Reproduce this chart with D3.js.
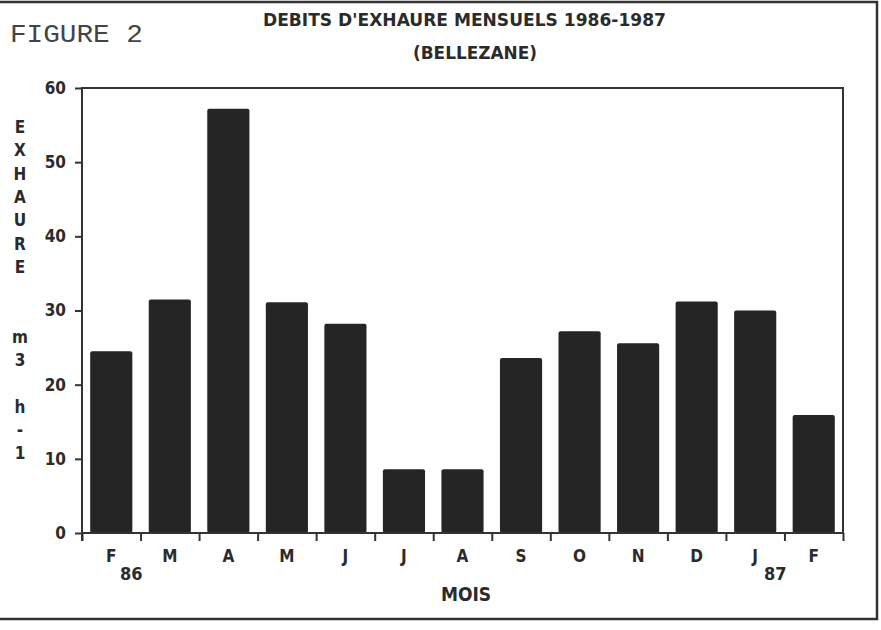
<!DOCTYPE html>
<html>
<head>
<meta charset="utf-8">
<script src="https://cdn.jsdelivr.net/npm/d3@7"></script>
<style>
  body { margin: 0; background: #fff; }
  .blk { font-family: "DejaVu Sans Condensed", "Liberation Sans Narrow", sans-serif; font-weight: bold; fill: #2b2b2b; }
  .axis text { font-family: "DejaVu Sans Condensed", "Liberation Sans Narrow", sans-serif; font-weight: bold; fill: #2b2b2b; font-size: 17px; }
  .axis path, .axis line { stroke: #333; stroke-width: 2; }
</style>
</head>
<body>
<svg class="chart"></svg>
<script>
// monthly values (m3/h)
var months = ["F", "M", "A", "M", "J", "J", "A", "S", "O", "N", "D", "J", "F"];
var values = [24.5, 31.5, 57.2, 31.1, 28.2, 8.6, 8.6, 23.6, 27.2, 25.6, 31.2, 30.0, 15.9];
var yearIdx = [0, 11];
var yearText = ["86", "87"];
var yTicks = [0, 10, 20, 30, 40, 50, 60];
var yLetters = ["E", "X", "H", "A", "U", "R", "E", "", "", "m", "3", "", "h", "-", "1"];

var W = 881, H = 630;
// plot box (note: "top" is taken by window.top)
var pL = 82, pR = 843, pT = 88, pB = 533;

var svg = d3.select(".chart")
	.attr("width", W)
	.attr("height", H);

var idx = months.map(function(d, i) { return i; });

var x = d3.scaleBand()
	.domain(idx)
	.range([pL, pR])
	.paddingInner(0.28)
	.paddingOuter(0.14);
var xb = d3.scaleBand()
	.domain(idx)
	.range([pL, pR]);
var xl = d3.scaleLinear()
	.domain([0, months.length])
	.range([pL, pR]);
var y = d3.scaleLinear()
	.domain([0, 60])
	.range([pB, pT]);

// outer page frame
svg.append("path")
	.attr("d", "M-5,2 H877 V619 H-5")
	.attr("fill", "none")
	.attr("stroke", "#333")
	.attr("stroke-width", 2.5);

// bars
svg.selectAll(".bar")
	.data(values)
.enter().append("rect")
	.attr("class", "bar")
	.attr("x", function(d, i) { return x(i); })
	.attr("y", function(d) { return y(d); })
	.attr("width", x.bandwidth())
	.attr("height", function(d) { return y(0) - y(d); })
	.attr("rx", 2)
	.attr("fill", "#252525");

// plot frame
svg.append("rect")
	.attr("x", pL)
	.attr("y", pT)
	.attr("width", pR - pL)
	.attr("height", pB - pT)
	.attr("fill", "none")
	.attr("stroke", "#333")
	.attr("stroke-width", 2);

// y axis
svg.append("g")
	.attr("class", "axis")
	.attr("transform", "translate(" + pL + ",0)")
	.call(d3.axisLeft(y).tickValues(yTicks).tickSize(7).tickPadding(9).tickSizeOuter(0))
	.call(function(g) { g.select(".domain").remove(); });

svg.append("line")
	.attr("x1", pL).attr("x2", pL)
	.attr("y1", pT).attr("y2", pB + 8)
	.attr("stroke", "#333")
	.attr("stroke-width", 2);

// boundary ticks on x
svg.append("g")
	.attr("class", "axis")
	.attr("transform", "translate(0," + pB + ")")
	.call(d3.axisBottom(xl).tickValues(d3.range(months.length + 1)).tickSize(8).tickFormat(""))
	.call(function(g) { g.select(".domain").remove(); });

// month labels
svg.append("g")
	.attr("class", "axis")
	.attr("transform", "translate(0," + pB + ")")
	.call(d3.axisBottom(xb).tickSize(0).tickPadding(17).tickFormat(function(i) { return months[i]; }))
	.call(function(g) { g.select(".domain").remove(); });

svg.selectAll(".year")
	.data(yearIdx)
.enter().append("text")
	.attr("class", "blk")
	.attr("x", function(d) { return xb(d) + xb.bandwidth() / 2 + 20; })
	.attr("y", 580)
	.attr("text-anchor", "middle")
	.style("font-size", "18px")
	.text(function(d, i) { return yearText[i]; });

// axis titles
svg.append("text")
	.attr("class", "blk")
	.attr("x", 466)
	.attr("y", 601)
	.attr("text-anchor", "middle")
	.style("font-size", "19px")
	.text("MOIS");

svg.selectAll(".ylab")
	.data(yLetters)
.enter().append("text")
	.attr("class", "blk")
	.attr("x", 20)
	.attr("y", function(d, i) { return 133 + i * 23.3; })
	.attr("text-anchor", "middle")
	.style("font-size", "17px")
	.text(function(d) { return d; });

// titles
svg.append("text")
	.attr("x", 10)
	.attr("y", 42)
	.attr("textLength", 133)
	.attr("lengthAdjust", "spacingAndGlyphs")
	.style("font-family", "Liberation Mono, monospace")
	.style("font-size", "26px")
	.style("fill", "#444")
	.text("FIGURE 2");

svg.append("text")
	.attr("class", "blk")
	.attr("x", 263)
	.attr("y", 26)
	.attr("textLength", 403)
	.attr("lengthAdjust", "spacingAndGlyphs")
	.style("font-size", "17px")
	.text("DEBITS D'EXHAURE MENSUELS 1986-1987");

svg.append("text")
	.attr("class", "blk")
	.attr("x", 413)
	.attr("y", 59)
	.attr("textLength", 124)
	.attr("lengthAdjust", "spacingAndGlyphs")
	.style("font-size", "17px")
	.text("(BELLEZANE)");
</script>
</body>
</html>
